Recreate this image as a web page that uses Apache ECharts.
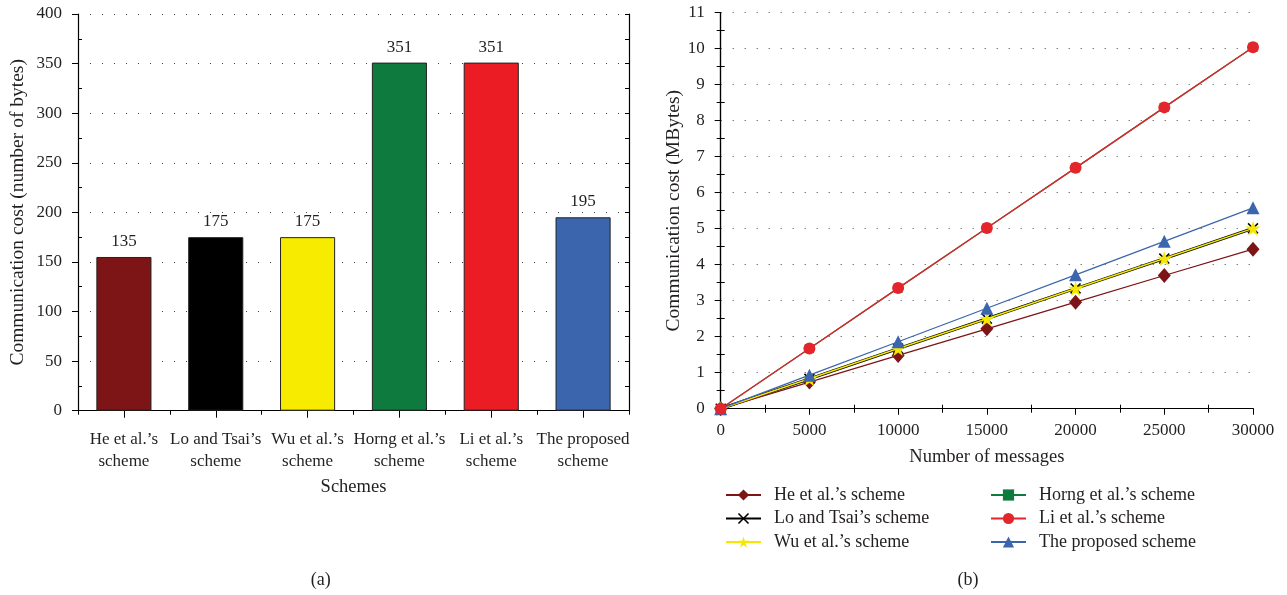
<!DOCTYPE html>
<html><head><meta charset="utf-8">
<script src="https://cdn.jsdelivr.net/npm/echarts@6/dist/echarts.min.js"></script>
<style>html,body{margin:0;padding:0;background:#fff}#c{width:1287px;height:595px}</style>
</head><body><div id="c"></div>
<script>
// ---- Panel (a) data ----
const schemes = ['He et al.’s\nscheme', 'Lo and Tsai’s\nscheme', 'Wu et al.’s\nscheme', 'Horng et al.’s\nscheme', 'Li et al.’s\nscheme', 'The proposed\nscheme'];
const barValues = [155, 175, 175, 351, 351, 195];
const barLabels = ['135', '175', '175', '351', '351', '195'];
const barColors = ['#7d1416', '#000000', '#f7ec00', '#0e7a3d', '#ec1c24', '#3b66ae'];
const minorTicksA = [25, 75, 125, 175, 225, 275, 325, 375];

// ---- Panel (b) data ----
const messages = [0, 5000, 10000, 15000, 20000, 25000, 30000];
const heCost     = [0, 0.74, 1.48, 2.22, 2.96, 3.70, 4.43];
const loCost     = [0, 0.83, 1.67, 2.50, 3.34, 4.17, 5.01];
const wuCost     = [0, 0.83, 1.67, 2.50, 3.34, 4.17, 5.01];
const horngCost  = [0, 1.67, 3.35, 5.02, 6.69, 8.37, 10.04];
const liCost     = [0, 1.67, 3.35, 5.02, 6.69, 8.37, 10.04];
const propCost   = [0, 0.93, 1.86, 2.79, 3.72, 4.65, 5.58];
const minorTicksBx = [2500, 7500, 12500, 17500, 22500, 27500];
const minorTicksBy = [0.5, 1.5, 2.5, 3.5, 4.5, 5.5, 6.5, 7.5, 8.5, 9.5, 10.5];

const FONT = 'Liberation Serif';
const TXT = '#231f20';
const TICK = 17;
const pairs = v => messages.map((m, i) => [m, v[i]]);
const STAR = 'path://M50,0 L61.23,34.55 L97.55,34.55 L68.17,55.9 L79.39,90.45 L50,69.1 L20.61,90.45 L31.83,55.9 L2.45,34.55 L38.77,34.55 Z';
const XMARK = 'path://M0,1 L1,0 L5,4 L9,0 L10,1 L6,5 L10,9 L9,10 L5,6 L1,10 L0,9 L4,5 Z';

const axisLine = {show: true, lineStyle: {color: '#000', width: 1.2}};
const dotted = {show: true, lineStyle: {color: '#444', type: [1, 11], width: 1}};
const noSplit = {show: false};
const innerTicks = vals => ({show: true, inside: true, length: 4, customValues: vals, lineStyle: {color: '#000'}});

function lineSeries(name, data, color, symbol, size, width, z) {
  return {
    type: 'line', name, data: pairs(data), xAxisIndex: 2, yAxisIndex: 3,
    symbol, symbolSize: size, showSymbol: true, z,
    lineStyle: {color, width}, itemStyle: {color},
    emphasis: {disabled: true}, animation: false
  };
}

const legendCommon = {
  orient: 'vertical', top: 481, itemWidth: 35, itemHeight: 14, itemGap: 5.5,
  textStyle: {fontFamily: FONT, fontSize: 18, color: TXT, padding: [0, 0, 0, 8]},
  selectedMode: false
};

const chart = echarts.init(document.getElementById('c'), null, {renderer: 'canvas'});
chart.setOption({
  animation: false,
  textStyle: {fontFamily: FONT, color: TXT},
  grid: [
    {left: 78, top: 14, width: 551, height: 396.7},
    {left: 720.7, top: 12.7, width: 532.3, height: 396}
  ],
  xAxis: [
    { // 0: bottom category (a)
      type: 'category', gridIndex: 0, data: schemes, position: 'bottom',
      axisLine, axisTick: {show: true, alignWithLabel: true, length: 7, lineStyle: {color: '#000'}},
      axisLabel: {fontFamily: FONT, fontSize: TICK, color: TXT, margin: 18, lineHeight: 22, interval: 0},
      name: 'Schemes', nameLocation: 'middle', nameGap: 56,
      nameTextStyle: {fontFamily: FONT, fontSize: 18.5, color: TXT}, splitLine: noSplit
    },
    { // 1: top category (a)
      type: 'category', gridIndex: 0, data: schemes, position: 'top',
      axisLine, axisTick: {show: true, inside: true, length: 4, lineStyle: {color: '#000'}},
      axisLabel: {show: false}, splitLine: noSplit
    },
    { // 2: bottom value (b)
      type: 'value', gridIndex: 1, position: 'bottom', min: 0, max: 30000, interval: 5000,
      axisLine, axisTick: {show: true, length: 6, lineStyle: {color: '#000'}},
      axisLabel: {fontFamily: FONT, fontSize: TICK, color: TXT, margin: 13, formatter: v => String(v)},
      name: 'Number of messages', nameLocation: 'middle', nameGap: 39,
      nameTextStyle: {fontFamily: FONT, fontSize: 18.5, color: TXT}, splitLine: noSplit
    },
    { // 3: top value (b)
      type: 'value', gridIndex: 1, position: 'top', min: 0, max: 30000, interval: 2500,
      axisLine, axisTick: {show: true, inside: true, length: 4, lineStyle: {color: '#000'}},
      axisLabel: {show: false}, splitLine: noSplit
    },
    { // 4: bottom minor inside ticks (b)
      type: 'value', gridIndex: 1, position: 'bottom', min: 0, max: 30000,
      axisLine: {show: false}, axisTick: innerTicks(minorTicksBx),
      axisLabel: {show: false}, splitLine: noSplit
    }
  ],
  yAxis: [
    { // 0: left (a)
      type: 'value', gridIndex: 0, position: 'left', min: 0, max: 400, interval: 50,
      axisLine, axisTick: {show: true, length: 6, lineStyle: {color: '#000'}},
      axisLabel: {fontFamily: FONT, fontSize: TICK, color: TXT, margin: 16},
      splitLine: dotted,
      name: 'Communication cost (number of bytes)', nameLocation: 'middle', nameGap: 50,
      nameTextStyle: {fontFamily: FONT, fontSize: 19.5, color: TXT}
    },
    { // 1: right (a)
      type: 'value', gridIndex: 0, position: 'right', min: 0, max: 400, interval: 25,
      axisLine, axisTick: {show: true, inside: true, length: 4, lineStyle: {color: '#000'}},
      axisLabel: {show: false}, splitLine: noSplit
    },
    { // 2: left minor inside (a)
      type: 'value', gridIndex: 0, position: 'left', min: 0, max: 400,
      axisLine: {show: false}, axisTick: innerTicks(minorTicksA),
      axisLabel: {show: false}, splitLine: noSplit
    },
    { // 3: left (b)
      type: 'value', gridIndex: 1, position: 'left', min: 0, max: 11, interval: 1,
      axisLine, axisTick: {show: true, length: 6, lineStyle: {color: '#000'}},
      axisLabel: {fontFamily: FONT, fontSize: TICK, color: TXT, margin: 16},
      splitLine: dotted,
      name: 'Communication cost (MBytes)', nameLocation: 'middle', nameGap: 37,
      nameTextStyle: {fontFamily: FONT, fontSize: 19.5, color: TXT}
    },
    { // 4: right (b)
      type: 'value', gridIndex: 1, position: 'right', min: 0, max: 11, interval: 0.5,
      axisLine, axisTick: {show: true, inside: true, length: 4, lineStyle: {color: '#000'}},
      axisLabel: {show: false}, splitLine: noSplit
    },
    { // 5: left minor inside (b)
      type: 'value', gridIndex: 1, position: 'left', min: 0, max: 11,
      axisLine: {show: false}, axisTick: innerTicks(minorTicksBy),
      axisLabel: {show: false}, splitLine: noSplit
    }
  ],
  legend: [
    Object.assign({}, legendCommon, {left: 720,
      data: ['He et al.’s scheme', 'Lo and Tsai’s scheme', 'Wu et al.’s scheme']}),
    Object.assign({}, legendCommon, {left: 985,
      data: ['Horng et al.’s scheme', 'Li et al.’s scheme', 'The proposed scheme']})
  ],
  series: [
    {
      type: 'bar', xAxisIndex: 0, yAxisIndex: 0, barWidth: '60%',
      data: barValues.map((v, i) => ({value: v, itemStyle: {color: barColors[i]}})),
      itemStyle: {borderColor: '#222', borderWidth: 1},
      label: {show: true, position: 'top', distance: 7, fontFamily: FONT, fontSize: TICK, color: TXT,
        formatter: p => barLabels[p.dataIndex]},
      emphasis: {disabled: true}
    },
    lineSeries('Horng et al.’s scheme', horngCost, '#0e7a3d', 'rect', 9, 1.3, 3),
    lineSeries('Lo and Tsai’s scheme', loCost, '#000000', XMARK, 11, 2.8, 4),
    lineSeries('He et al.’s scheme', heCost, '#7d1416', 'diamond', [13, 15], 1.3, 5),
    lineSeries('Wu et al.’s scheme', wuCost, '#f5e800', STAR, 15, 1.5, 6),
    lineSeries('The proposed scheme', propCost, '#3b66ae', 'triangle', 13, 1.3, 7),
    lineSeries('Li et al.’s scheme', liCost, '#e3262b', 'circle', 12, 1.3, 8)
  ],
  graphic: [
    {type: 'text', x: 320.7, y: 580, style: {text: '(a)', font: '18px "Liberation Serif"', fill: TXT, align: 'center', verticalAlign: 'middle'}},
    {type: 'text', x: 968, y: 580, style: {text: '(b)', font: '18px "Liberation Serif"', fill: TXT, align: 'center', verticalAlign: 'middle'}}
  ]
});
</script>
</body></html>
